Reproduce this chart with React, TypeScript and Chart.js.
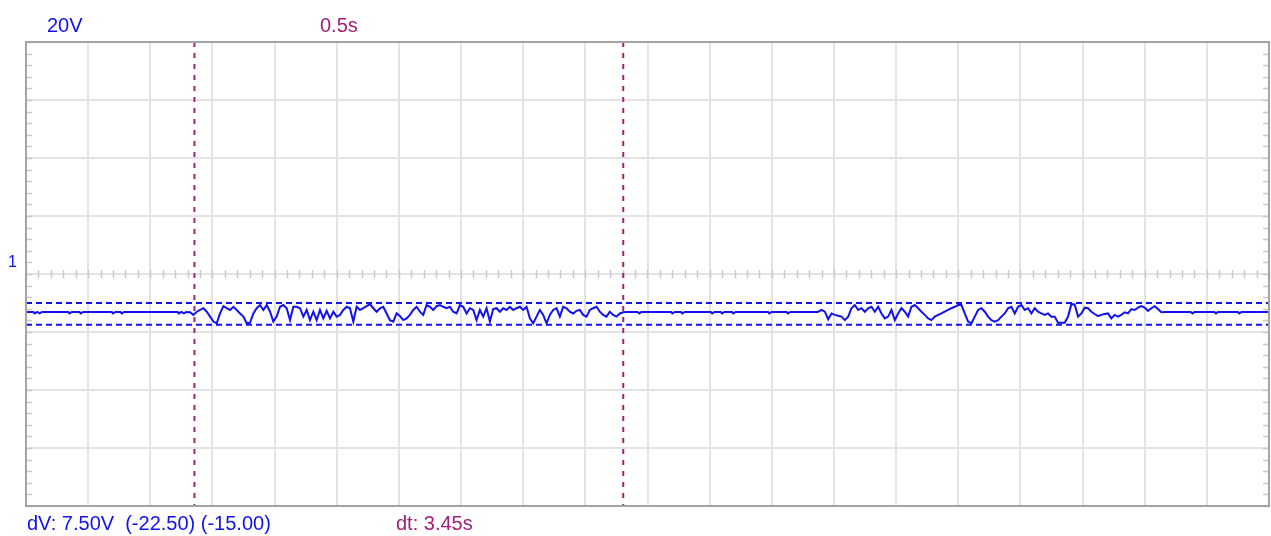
import React, { useEffect, useRef } from "react";
import { Chart, registerables } from "chart.js";

Chart.register(...registerables);

// ---- Data ----
const X_MIN = 0;
const X_MAX = 10; // seconds (20 div x 0.5 s)
const Y_MIN = -85; // volts (8 div x 20 V)
const Y_MAX = 75;
const X_STEP = 0.5;
const Y_STEP = 20;
const Y_TICKS = [-85, -65, -45, -25, -5, 15, 35, 55, 75];
const CENTER_LEVEL = -5;

const CURSOR_T1 = 1.355;
const CURSOR_T2 = 4.805;
const CURSOR_V1 = -15.0;
const CURSOR_V2 = -22.5;

const SAMPLE_STEP = 0.0268;
const BURST1_START = 1.32;
const BURST2_START = 6.4;

const quiet1: [number, number][] = [
  [0, -18.1], [0.06, -18.1], [0.07, -18.6], [0.09, -18.1], [0.11, -18.6], [0.13, -18.1],
  [0.34, -18.1], [0.35, -18.6], [0.37, -18.1], [0.43, -18.1], [0.44, -18.6], [0.46, -18.1],
  [0.69, -18.1], [0.7, -18.6], [0.72, -18.1], [0.76, -18.1], [0.77, -18.6], [0.79, -18.1],
  [1.22, -18.1], [1.23, -18.6], [1.25, -18.1], [1.27, -18.6], [1.29, -18.1],
];

const burst1: number[] = [
  -18.2, -19.1, -18.0, -17.4, -16.8, -18.0, -19.7, -21.4, -22.0, -18.6,
  -16.1, -16.8, -17.4, -16.3, -17.4, -18.6, -19.7, -22.0, -21.8, -18.6,
  -16.8, -15.7, -17.4, -15.7, -18.0, -21.4, -19.7, -16.3, -15.7, -16.8,
  -20.9, -16.3, -16.3, -16.8, -19.7, -17.4, -20.9, -18.0, -20.9, -17.4,
  -20.3, -17.7, -20.3, -18.0, -19.7, -19.1, -17.4, -16.3, -16.8, -21.4,
  -16.3, -17.4, -16.8, -16.1, -15.4, -16.8, -18.0, -16.8, -16.3, -18.6,
  -20.9, -21.4, -18.6, -19.5, -20.9, -20.3, -19.1, -17.4, -16.3, -18.0,
  -19.1, -15.7, -16.3, -17.4, -16.1, -15.7, -16.3, -16.8, -16.3, -18.0,
  -18.6, -15.7, -16.3, -18.6, -16.8, -17.4, -20.9, -17.4,
  -19.7, -16.8, -21.4, -17.1, -16.8, -18.0, -16.8, -17.4, -16.3, -17.4,
  -16.8, -16.3, -17.4, -16.3, -20.3, -22.0, -19.7, -17.4, -19.1, -22.0,
  -19.1, -17.4, -16.8, -19.7, -16.3, -16.8, -18.0, -18.6, -17.7, -17.4,
  -19.1, -19.7, -17.4, -16.8, -16.3, -18.0, -19.1, -19.7, -18.0, -19.1,
  -19.7, -18.6, -18.2,
];

const quiet2: [number, number][] = [
  [4.83, -18.1], [4.92, -18.1], [4.935, -18.6], [4.95, -18.1], [5.19, -18.1], [5.2, -18.6],
  [5.22, -18.1], [5.27, -18.1], [5.28, -18.6], [5.3, -18.1], [5.51, -18.1], [5.52, -18.6],
  [5.54, -18.1], [5.59, -18.1], [5.6, -18.6], [5.62, -18.1], [5.68, -18.1], [5.69, -18.6],
  [5.71, -18.1], [5.97, -18.1], [5.98, -18.6], [6.0, -18.1], [6.12, -18.1], [6.13, -18.6],
  [6.15, -18.1], [6.37, -18.1],
];

const burst2: number[] = [
  -17.4, -18.0, -20.6, -18.6, -19.1, -19.4, -19.7, -20.9, -19.7, -16.8,
  -15.7, -17.4, -16.8, -18.0, -16.8, -16.3, -18.0, -16.3, -18.6, -20.3,
  -19.7, -17.4, -20.9, -18.6, -16.8, -18.0, -19.7, -16.3, -15.7, -16.8,
  -18.0, -19.1, -20.3, -20.9, -19.7, -19.1, -18.6, -18.0, -17.4, -16.8,
  -16.3, -15.7, -15.7, -18.6, -21.4, -22.0, -19.7, -17.4, -16.8, -18.0,
  -19.7, -20.9, -21.4, -20.9, -19.7, -18.6, -16.8, -16.3, -18.6, -16.3,
  -15.7, -17.4, -16.8, -18.6, -16.8, -18.0,
  -18.6, -19.1, -18.6, -19.7, -19.7, -21.8, -21.8, -21.8, -19.7, -15.4,
  -15.5, -19.7, -18.6, -16.6, -16.8, -18.0, -18.8, -19.5, -19.1, -18.8,
  -18.6, -20.3, -19.1, -19.7, -19.1, -18.2, -18.6, -17.1, -17.4, -16.6,
  -16.1, -16.6, -17.7, -16.8, -16.1, -17.1, -18.2,
];

const quiet3: [number, number][] = [
  [9.17, -18.1], [9.37, -18.1], [9.385, -18.6], [9.4, -18.1], [9.56, -18.1], [9.573, -18.6],
  [9.59, -18.1], [9.75, -18.1], [9.76, -18.6], [9.78, -18.1], [10, -18.1],
];

const VOLT_LABEL = "20V";
const TIME_LABEL = "0.5s";
const CHANNEL_LABEL = "1";
const DV_LABEL = "dV: 7.50V  (-22.50) (-15.00)";
const DT_LABEL = "dt: 3.45s";

const BLUE = "#1212ee";
const PURPLE = "#a1217a";

function buildTrace() {
  const pts: { x: number; y: number }[] = [];
  quiet1.forEach(([x, y]) => pts.push({ x, y }));
  burst1.forEach((y, i) => pts.push({ x: BURST1_START + i * SAMPLE_STEP, y }));
  quiet2.forEach(([x, y]) => pts.push({ x, y }));
  burst2.forEach((y, i) => pts.push({ x: BURST2_START + i * SAMPLE_STEP, y }));
  quiet3.forEach(([x, y]) => pts.push({ x, y }));
  return pts;
}

const scopePlugin = {
  id: "scopeDecor",
  beforeDatasetsDraw(chart: any) {
    const { ctx, chartArea, scales } = chart;
    const xs = scales.x;
    const ys = scales.y;
    ctx.save();
    ctx.strokeStyle = "#c9c9c9";
    ctx.lineWidth = 1.5;
    for (let v = Y_MIN; v <= Y_MAX + 0.001; v += Y_STEP / 5) {
      const py = Math.round(ys.getPixelForValue(v)) + 0.5;
      ctx.beginPath();
      ctx.moveTo(chartArea.left, py);
      ctx.lineTo(chartArea.left + 6, py);
      ctx.moveTo(chartArea.right - 6, py);
      ctx.lineTo(chartArea.right, py);
      ctx.stroke();
    }
    const cy = ys.getPixelForValue(CENTER_LEVEL);
    for (let t = X_MIN; t <= X_MAX + 0.001; t += X_STEP / 5) {
      const px = Math.round(xs.getPixelForValue(t)) + 0.5;
      ctx.beginPath();
      ctx.moveTo(px, cy - 4);
      ctx.lineTo(px, cy + 4);
      ctx.stroke();
    }
    ctx.restore();
  },
  afterDraw(chart: any) {
    const { ctx, chartArea } = chart;
    ctx.save();
    ctx.strokeStyle = "#a4a4a4";
    ctx.lineWidth = 2;
    ctx.strokeRect(chartArea.left, chartArea.top, chartArea.right - chartArea.left, chartArea.bottom - chartArea.top);
    ctx.textBaseline = "alphabetic";
    ctx.font = "20px 'Liberation Sans', Arial, sans-serif";
    ctx.fillStyle = BLUE;
    ctx.fillText(VOLT_LABEL, 47, 32);
    ctx.fillText(DV_LABEL, 27, 530);
    ctx.fillStyle = PURPLE;
    ctx.fillText(TIME_LABEL, 320, 32);
    ctx.fillText(DT_LABEL, 396, 530);
    ctx.fillStyle = BLUE;
    ctx.font = "16px 'Liberation Sans', Arial, sans-serif";
    ctx.fillText(CHANNEL_LABEL, 8, 267);
    ctx.restore();
  },
};

export default function App() {
  const ref = useRef<HTMLCanvasElement>(null);
  useEffect(() => {
    if (!ref.current) return;
    const trace = buildTrace();
    const chart = new Chart(ref.current, {
      type: "line",
      data: {
        datasets: [
          {
            data: trace,
            borderColor: BLUE,
            borderWidth: 2,
            pointRadius: 0,
            tension: 0,
            order: 1,
          },
          {
            data: [{ x: X_MIN, y: CURSOR_V1 }, { x: X_MAX, y: CURSOR_V1 }],
            borderColor: BLUE,
            borderWidth: 2,
            borderDash: [6, 4],
            pointRadius: 0,
            order: 2,
          },
          {
            data: [{ x: X_MIN, y: CURSOR_V2 }, { x: X_MAX, y: CURSOR_V2 }],
            borderColor: BLUE,
            borderWidth: 2,
            borderDash: [6, 4],
            pointRadius: 0,
            order: 2,
          },
          {
            data: [{ x: CURSOR_T1, y: Y_MAX }, { x: CURSOR_T1, y: Y_MIN }],
            borderColor: PURPLE,
            borderWidth: 2,
            borderDash: [5, 6],
            pointRadius: 0,
            order: 0,
          },
          {
            data: [{ x: CURSOR_T2, y: Y_MAX }, { x: CURSOR_T2, y: Y_MIN }],
            borderColor: PURPLE,
            borderWidth: 2,
            borderDash: [5, 6],
            pointRadius: 0,
            order: 0,
          },
        ],
      },
      options: {
        responsive: false,
        animation: false,
        devicePixelRatio: 1,
        layout: { padding: { left: 26, right: 2, top: 42, bottom: 30 } },
        plugins: { legend: { display: false }, tooltip: { enabled: false } },
        scales: {
          x: {
            type: "linear",
            min: X_MIN,
            max: X_MAX,
            ticks: { display: false, stepSize: X_STEP },
            grid: { color: "#e3e3e3", lineWidth: 2, drawTicks: false },
            border: { display: false },
          },
          y: {
            type: "linear",
            min: Y_MIN,
            max: Y_MAX,
            afterBuildTicks: (scale: any) => {
              scale.ticks = Y_TICKS.map((v) => ({ value: v }));
            },
            ticks: { display: false },
            grid: { color: "#e3e3e3", lineWidth: 2, drawTicks: false },
            border: { display: false },
          },
        },
      },
      plugins: [scopePlugin],
    });
    return () => chart.destroy();
  }, []);
  return (
    <div style={{ position: "fixed", left: 0, top: 0, width: 1271, height: 536, background: "#fff" }}>
      <canvas ref={ref} width={1271} height={536} style={{ width: 1271, height: 536, display: "block" }} />
    </div>
  );
}
